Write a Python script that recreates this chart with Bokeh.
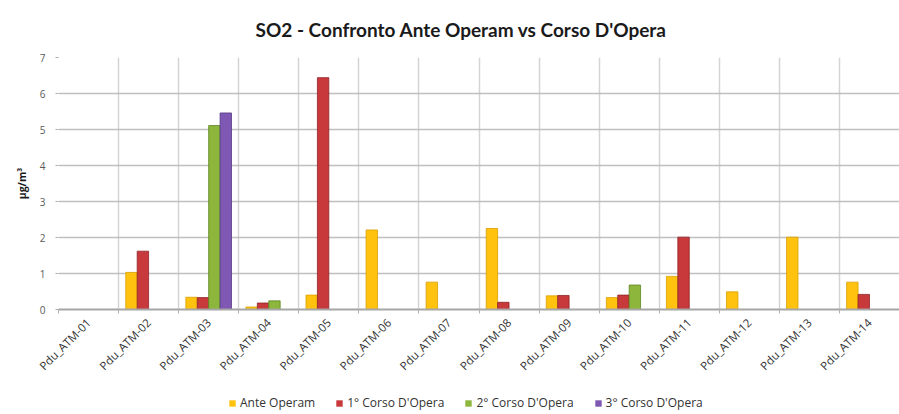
from bokeh.plotting import figure
from bokeh.models import ColumnDataSource, FixedTicker, Legend, LegendItem, Label
from bokeh.layouts import column
from bokeh.transform import dodge
from bokeh.embed import file_html
from bokeh.resources import INLINE
import math

categories = ["Pdu_ATM-01", "Pdu_ATM-02", "Pdu_ATM-03", "Pdu_ATM-04", "Pdu_ATM-05",
              "Pdu_ATM-06", "Pdu_ATM-07", "Pdu_ATM-08", "Pdu_ATM-09", "Pdu_ATM-10",
              "Pdu_ATM-11", "Pdu_ATM-12", "Pdu_ATM-13", "Pdu_ATM-14"]
ante_operam = [None, 1.03, 0.34, 0.07, 0.40, 2.21, 0.76, 2.25, 0.38, 0.33, 0.92, 0.49, 2.01, 0.76]
corso_1 = [None, 1.62, 0.33, 0.18, 6.44, None, None, 0.20, 0.39, 0.40, 2.01, None, None, 0.42]
corso_2 = [None, None, 5.11, 0.24, None, None, None, None, None, 0.68, None, None, None, None]
corso_3 = [None, None, 5.46, None, None, None, None, None, None, None, None, None, None, None]
series_names = ["Ante Operam", "1° Corso D'Opera", "2° Corso D'Opera", "3° Corso D'Opera"]
y_ticks = [0, 1, 2, 3, 4, 5, 6, 7]
title_text = "SO2 - Confronto Ante Operam vs Corso D'Opera"

FONT = "Open Sans"
colors = ["#FFC20E", "#C8393B", "#8DB63C", "#7E58B3"]
edges = ["#D9A000", "#8E2224", "#5E8522", "#563A85"]


def strip(height):
    f = figure(width=899, height=height, output_backend="svg", toolbar_location=None,
               x_axis_type=None, y_axis_type=None, x_range=(0, 1), y_range=(0, 1),
               min_border_left=0, min_border_right=0, min_border_top=0, min_border_bottom=0)
    f.outline_line_color = None
    f.xgrid.visible = False
    f.ygrid.visible = False
    return f


# title strip
tt = strip(44)
tt.add_layout(Label(x=197, y=15, x_units="screen", y_units="screen", text=title_text,
                    text_font="Lato", text_font_size="19px", text_font_style="bold",
                    text_color="#1a1a1a", text_baseline="middle"))

p = figure(width=899, height=340, output_backend="svg", toolbar_location=None,
           x_range=(0, len(categories)), y_range=(0, 7),
           min_border_left=58, min_border_right=0, min_border_top=13, min_border_bottom=75)
p.outline_line_color = None

bw = 0.19
offsets = [-1.5 * bw, -0.5 * bw, 0.5 * bw, 1.5 * bw]
for vals, off, c, e in zip([ante_operam, corso_1, corso_2, corso_3], offsets, colors, edges):
    xs = [i + 0.5 for i, v in enumerate(vals) if v is not None]
    ys = [v for v in vals if v is not None]
    src = ColumnDataSource(dict(x=xs, top=ys))
    p.vbar(x=dodge("x", off), top="top", bottom=0, width=bw, source=src,
           fill_color=c, line_color=e, line_width=0.8)

# x axis
tick_pos = [i + 0.5 for i in range(len(categories))]
p.xaxis.ticker = FixedTicker(ticks=tick_pos, minor_ticks=list(range(len(categories) + 1)))
p.xaxis.major_label_overrides = {t: c for t, c in zip(tick_pos, categories)}
p.xaxis.major_label_orientation = math.pi / 4
p.xaxis.major_tick_line_color = None
p.xaxis.minor_tick_line_color = "#b0b0b0"
p.xaxis.minor_tick_out = 4
p.xaxis.minor_tick_in = 0
p.xaxis.axis_line_color = "#a6a6a6"
p.xaxis.axis_line_width = 2
p.xaxis.major_label_text_font = FONT
p.xaxis.major_label_text_font_size = "11.5px"
p.xaxis.major_label_text_color = "#333333"
p.xaxis.major_label_standoff = 5

p.xgrid.ticker = FixedTicker(ticks=list(range(len(categories) + 1)))
p.xgrid.grid_line_color = "#d4d4d4"
p.xgrid.grid_line_width = 1.5

# y axis
p.yaxis.ticker = FixedTicker(ticks=y_ticks)
p.yaxis.axis_line_color = None
p.yaxis.major_tick_line_color = "#b0b0b0"
p.yaxis.major_tick_out = 3
p.yaxis.major_tick_in = 0
p.yaxis.minor_tick_line_color = None
p.yaxis.major_label_text_font = FONT
p.yaxis.major_label_text_font_size = "10px"
p.yaxis.major_label_text_color = "#595959"
p.yaxis.major_label_standoff = 10
p.yaxis.axis_label = "µg/m³"
p.yaxis.axis_label_text_font = FONT
p.yaxis.axis_label_text_font_size = "10.5px"
p.yaxis.axis_label_text_font_style = "bold"
p.yaxis.axis_label_text_color = "#1a1a1a"
p.yaxis.axis_label_standoff = 8
p.ygrid.grid_line_color = "#bfbfbf"
p.ygrid.grid_line_width = 1.5

# legend strip (frames are aligned with the main frame by the column layout)
lg = strip(30)
items = []
for n, c in zip(series_names, colors):
    # placeholder point at zero size: only its legend swatch is visible
    r = lg.scatter(x=[0.5], y=[0.5], size=0, marker="square", fill_color=c, line_color=None)
    items.append(LegendItem(label=n, renderers=[r]))
legend = Legend(items=items, orientation="horizontal", location=(166, 3))
legend.glyph_width = 16
legend.glyph_height = 16
legend.label_standoff = -3
legend.spacing = 16
legend.padding = 2
legend.margin = 0
legend.label_height = 12
legend.label_text_font = FONT
legend.label_text_font_size = "12px"
legend.label_text_color = "#333333"
legend.border_line_color = None
legend.background_fill_alpha = 0
lg.add_layout(legend)

layout = column(tt, p, lg, spacing=0)
open("out.html", "w").write(file_html(layout, INLINE))
